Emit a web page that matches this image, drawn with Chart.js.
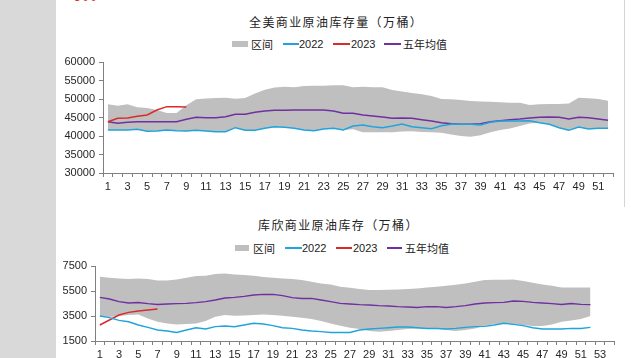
<!DOCTYPE html>
<html><head><meta charset="utf-8">
<script src="https://cdn.jsdelivr.net/npm/chart.js@4.4.0/dist/chart.umd.min.js"></script>
<style>
html,body{margin:0;padding:0;width:631px;height:358px;overflow:hidden;background:#fff;}
#strip{position:absolute;left:0;top:0;width:56px;height:358px;background:#d9d9d9;}
#rborder{position:absolute;left:624px;top:0;width:1px;height:207px;background:#d4d4d4;}
.title{position:absolute;font-family:"Noto Sans CJK SC";font-size:12px;line-height:14px;letter-spacing:1.4px;color:#222;white-space:nowrap;}
.lg{position:absolute;font-size:11px;line-height:12px;color:#222;white-space:nowrap;}
.cjk{font-family:"Noto Sans CJK SC";}
.num{font-family:"Liberation Sans";}
.sw{position:absolute;}
.box{position:absolute;}
#cut{position:absolute;left:74px;top:-10px;font-family:"Liberation Sans";font-size:12px;letter-spacing:1.5px;color:#e03030;}
</style>
</head><body>
<div id="strip"></div>
<div id="rborder"></div>
<div id="cut">300</div>

<div class="title" style="left:249px;top:15px;">全美商业原油库存量（万桶）</div>
<div class="sw" style="left:232px;top:41px;width:16px;height:6px;background:#bfbfbf"></div>
<div class="lg cjk" style="left:251px;top:38px;">区间</div>
<div class="sw" style="left:283px;top:43px;width:16px;height:2px;background:#1fa5dc"></div>
<div class="lg num" style="left:299px;top:38px;">2022</div>
<div class="sw" style="left:333px;top:43px;width:17px;height:2px;background:#d92b2b"></div>
<div class="lg num" style="left:351px;top:38px;">2023</div>
<div class="sw" style="left:384px;top:43px;width:17px;height:2px;background:#7030a0"></div>
<div class="lg cjk" style="left:403px;top:38px;">五年均值</div>

<div class="title" style="left:258px;top:218px;">库欣商业原油库存（万桶）</div>
<div class="sw" style="left:235px;top:245px;width:14px;height:6px;background:#bfbfbf"></div>
<div class="lg cjk" style="left:253px;top:242px;">区间</div>
<div class="sw" style="left:285px;top:247px;width:17px;height:2px;background:#1fa5dc"></div>
<div class="lg num" style="left:302px;top:242px;">2022</div>
<div class="sw" style="left:336px;top:247px;width:16px;height:2px;background:#d92b2b"></div>
<div class="lg num" style="left:353px;top:242px;">2023</div>
<div class="sw" style="left:387px;top:247px;width:15px;height:2px;background:#7030a0"></div>
<div class="lg cjk" style="left:405px;top:242px;">五年均值</div>

<div class="box" style="left:56px;top:0px;width:566px;height:195px;"><canvas id="c1"></canvas></div>
<div class="box" style="left:56px;top:195px;width:566px;height:163px;"><canvas id="c2"></canvas></div>

<script>
// ---------- 全美商业原油库存量 (万桶) ----------
const usWeeks = ['1','2','3','4','5','6','7','8','9','10','11','12','13','14','15','16','17','18','19','20','21','22','23','24','25','26','27','28','29','30','31','32','33','34','35','36','37','38','39','40','41','42','43','44','45','46','47','48','49','50','51','52'];
const usRangeHigh = [48600,48200,48600,47750,47600,47000,46200,46200,48300,49900,50150,50300,50350,50100,50250,51500,52500,53100,53300,53200,53500,53600,53600,53700,53750,53150,53330,53200,53150,52450,52000,51600,51300,50800,50000,49900,49750,49450,49300,49280,49100,49000,49000,48400,48550,48650,48650,48800,50350,50200,50000,49550];
const usRangeLow = [41620,41620,41620,41800,41260,41350,41620,41440,41350,41530,41350,41170,41170,42250,41530,41530,42070,42520,42340,42070,41620,41440,41890,42070,41620,41800,41000,41000,41000,41000,41200,41300,41100,41000,40900,40400,40000,39800,40200,41000,41600,42050,42700,43400,43600,43150,42250,41530,42430,41890,42070,42070];
const us2022 = [41620,41620,41620,41800,41260,41350,41620,41440,41350,41530,41350,41170,41170,42250,41530,41530,42070,42520,42340,42070,41620,41440,41890,42070,41620,42700,42970,42520,42250,42700,43240,42520,42250,41980,42790,43150,43150,43150,42970,43690,44050,44050,44050,44140,43600,43150,42250,41530,42430,41890,42070,42070];
const us2023 = [43870,44770,44860,45320,45680,47030,47930,47930,47840];
const usAvg5 = [43870,43420,43690,43870,43870,43870,43870,43870,44500,45050,44960,44960,45230,45860,45860,46400,46760,46940,46940,47030,47030,47030,47030,46760,46130,46130,45680,45400,45130,44770,44860,44770,44410,44050,43600,43330,43150,43150,43330,43870,44140,44410,44590,44860,45050,45130,45050,44590,45050,44960,44590,44230];

// ---------- 库欣商业原油库存 (万桶) ----------
const cuWeeks = ['1','2','3','4','5','6','7','8','9','10','11','12','13','14','15','16','17','18','19','20','21','22','23','24','25','26','27','28','29','30','31','32','33','34','35','36','37','38','39','40','41','42','43','44','45','46','47','48','49','50','51','52','53','54'];
const cuRangeHigh = [6640,6560,6510,6460,6510,6460,6350,6350,6430,6560,6700,6730,6860,6910,6830,6780,6730,6620,6560,6510,6460,6380,6250,6110,6030,5850,5770,5660,5580,5580,5610,5630,5660,5710,5790,5850,5930,6010,6110,6250,6380,6410,6410,6430,6300,6170,6030,5930,5790,5790,5790,5790];
const cuRangeLow = [3500,3420,3500,3580,3630,3310,3040,2910,2830,2860,2910,3100,3450,3580,3530,3550,3580,3630,3580,3530,3450,3370,3260,3100,2910,2730,2560,2460,2300,2250,2300,2380,2460,2510,2510,2460,2380,2300,2380,2510,2730,2860,2910,2830,2780,2700,2700,2830,3040,3150,3260,3500];
const cu2022 = [3500,3370,3150,3040,2780,2590,2380,2300,2190,2380,2560,2460,2650,2700,2650,2780,2910,2860,2730,2560,2510,2380,2300,2250,2190,2190,2190,2380,2460,2510,2560,2620,2620,2560,2510,2510,2460,2510,2590,2650,2670,2780,2910,2830,2730,2560,2460,2460,2460,2510,2510,2590];
const cu2023 = [2780,3180,3580,3790,3900,3980,4060];
const cuAvg5 = [4990,4860,4650,4540,4570,4490,4430,4460,4490,4510,4570,4650,4780,4940,4990,5070,5180,5230,5230,5130,4970,4910,4910,4780,4650,4510,4460,4410,4380,4330,4300,4250,4220,4190,4250,4250,4190,4250,4330,4460,4540,4570,4590,4700,4670,4590,4540,4490,4430,4490,4430,4410];

const C_BAND = '#bfbfbf', C_2022 = '#1fa5dc', C_2023 = '#d92b2b', C_AVG = '#7030a0';
const AXIS = '#808080', TXT = '#262626';

function lineDs(label, data, color) {
  return {label, data, borderColor: color, backgroundColor: color, borderWidth: 1.5,
          pointRadius: 0, pointHoverRadius: 0, tension: 0, fill: false, order: 1};
}

function build(id, labels, low, high, s22, s23, avg, yMin, yMax, yStep, yW, xH, padTop, padRight) {
  new Chart(document.getElementById(id), {
    type: 'line',
    data: {
      labels: labels,
      datasets: [
        {label: '区间下限', data: low, borderWidth: 0, borderColor: 'rgba(0,0,0,0)', pointRadius: 0, fill: false, order: 10},
        {label: '区间', data: high, borderWidth: 0, borderColor: 'rgba(0,0,0,0)', backgroundColor: C_BAND, pointRadius: 0, fill: '-1', order: 10},
        lineDs('2022', s22, C_2022),
        lineDs('2023', s23, C_2023),
        lineDs('五年均值', avg, C_AVG)
      ]
    },
    options: {
      responsive: true, maintainAspectRatio: false, animation: false, devicePixelRatio: 1,
      layout: {padding: {top: padTop, right: padRight, left: 0, bottom: 0}},
      plugins: {legend: {display: false}, title: {display: false}, tooltip: {enabled: false}},
      scales: {
        x: {
          type: 'category', offset: true,
          grid: {display: true, drawOnChartArea: false, drawTicks: true, tickLength: 4, color: AXIS, offset: true},
          border: {display: true, color: AXIS, width: 1},
          ticks: {autoSkip: false, maxRotation: 0, minRotation: 0, padding: 3, color: TXT,
                  font: {family: 'Liberation Sans', size: 11},
                  callback: function(v, i) { return i % 2 === 0 ? this.getLabelForValue(v) : ''; }},
          afterFit: function(s) { s.height = xH; }
        },
        y: {
          min: yMin, max: yMax,
          grid: {display: true, drawOnChartArea: false, drawTicks: true, tickLength: 4, color: AXIS},
          border: {display: true, color: AXIS, width: 1},
          ticks: {stepSize: yStep, padding: 4, color: TXT, font: {family: 'Liberation Sans', size: 11},
                  callback: function(v) { return String(v); }},
          afterFit: function(s) { s.width = yW; }
        }
      }
    }
  });
}

build('c1', usWeeks, usRangeLow, usRangeHigh, us2022, us2023, usAvg5, 30000, 60000, 5000, 47, 22, 62, 9);
build('c2', cuWeeks, cuRangeLow, cuRangeHigh, cu2022, cu2023, cuAvg5, 1500, 7500, 2000, 39, 17, 71, 7.5);
</script>
</body></html>
